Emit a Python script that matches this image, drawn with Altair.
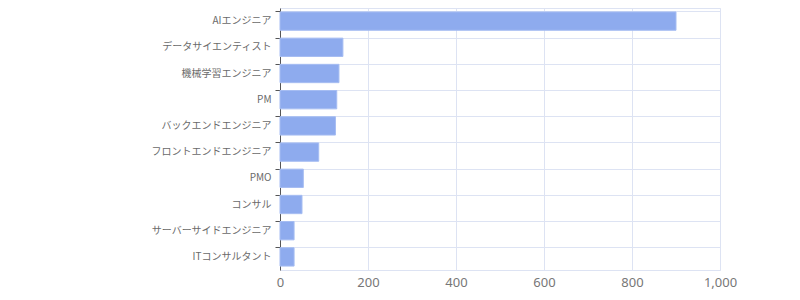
import altair as alt
import pandas as pd

categories = ["AIエンジニア", "データサイエンティスト", "機械学習エンジニア", "PM",
              "バックエンドエンジニア", "フロントエンドエンジニア", "PMO", "コンサル",
              "サーバーサイドエンジニア", "ITコンサルタント"]
values = [900, 143, 134, 129, 126, 88, 53, 50, 32, 32]
x_ticks = [0, 200, 400, 600, 800, 1000]

df = pd.DataFrame({"job": categories, "count": values})

bars = alt.Chart(df).mark_bar(color="#8eabee", stroke="#a6bdf2", strokeWidth=1).encode(
    y=alt.Y("job:N", sort=categories, title=None,
            scale=alt.Scale(paddingInner=0.3, paddingOuter=0.15),
            axis=alt.Axis(bandPosition=0, grid=True, gridColor="#dde3f3", domainColor="#555555",
                          tickColor="#555555", tickSize=5, labelColor="#6a6a6a", labelFontSize=10,
                          labelFont="Noto Sans CJK JP", labelPadding=4)),
    x=alt.X("count:Q", title=None, scale=alt.Scale(domain=[0, 1000]),
            axis=alt.Axis(values=x_ticks, grid=True, gridColor="#dde3f3",
                          domain=False, ticks=False, labelColor="#777777", labelFontSize=13,
                          labelFont="Noto Sans", labelPadding=6, labelFlush=False, format=",d")),
)

chart = bars.properties(
    width=440, height=262,
    autosize=alt.AutoSizeParams(type="none"),
    padding={"left": 280, "top": 8, "right": 80, "bottom": 30},
).configure_view(stroke="#dde3f3")

chart.save("out.html", embed_options={"renderer": "svg", "actions": False})
